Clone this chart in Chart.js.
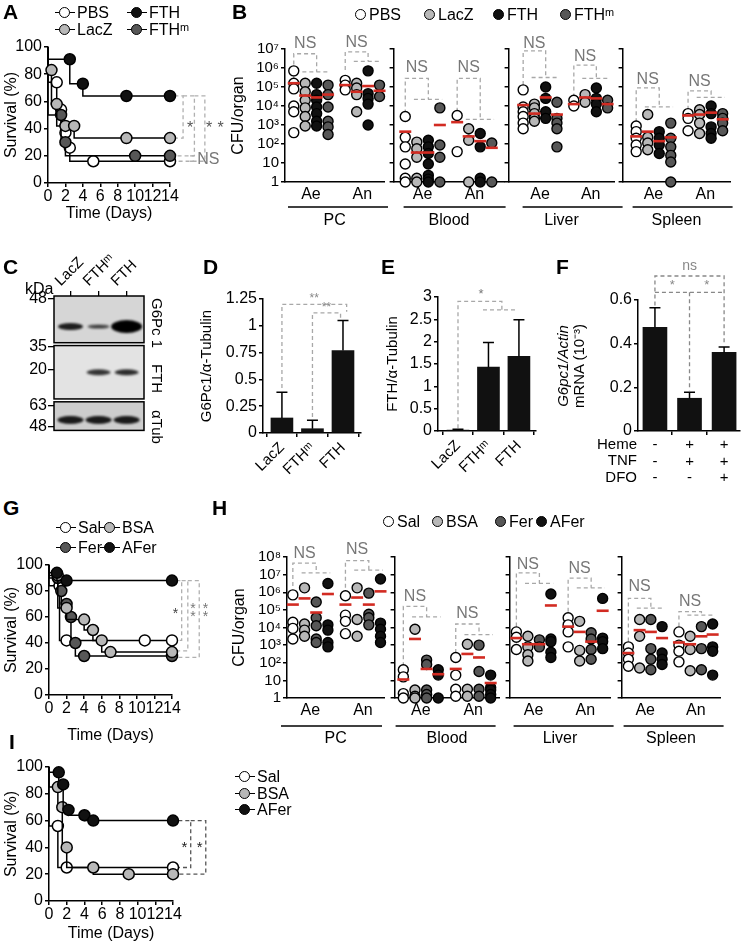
<!DOCTYPE html>
<html lang="en">
<head>
<meta charset="UTF-8">
<title>Figure</title>
<script src="https://cdn.jsdelivr.net/npm/chart.js"></script>
<style>
  body { margin: 0; background: #fff; font-family: "Liberation Sans", Arial, sans-serif; }
  #fig { position: relative; width: 742px; height: 948px; overflow: hidden; background: #fff; }
  .box { position: absolute; }
  .box canvas { display: block; }
  .pl { position: absolute; font-weight: bold; font-size: 21px; line-height: 21px; }
  .lg { position: absolute; display: flex; align-items: center; height: 16px; font-size: 16px; line-height: 16px; white-space: nowrap; }
  .sym { display: inline-block; position: relative; width: 20px; height: 12px; margin-right: 2px; }
  .sym.km:before { content: ''; position: absolute; left: 0; right: 0; top: 5px; border-top: 1.5px solid #000; }
  .sym:after { content: ''; position: absolute; left: 4px; top: 0; width: 9px; height: 9px; border: 1.5px solid #000; border-radius: 50%; background: var(--c); }
  .sym.dot { width: 12px; }
  .sym.dot:after { left: 0; }
  .txt { position: absolute; font-size: 15px; line-height: 16px; white-space: nowrap; }
  .vt { position: absolute; font-size: 15px; line-height: 16px; white-space: nowrap; transform: rotate(90deg); transform-origin: 0 0; }
</style>
</head>
<body>
<div id="fig">
  <div class="pl" style="left:3px;top:1px">A</div>
  <div class="pl" style="left:232px;top:1px">B</div>
  <div class="pl" style="left:3px;top:256px">C</div>
  <div class="pl" style="left:203px;top:256px">D</div>
  <div class="pl" style="left:381px;top:256px">E</div>
  <div class="pl" style="left:556px;top:256px">F</div>
  <div class="pl" style="left:3px;top:497px">G</div>
  <div class="pl" style="left:212px;top:497px">H</div>
  <div class="pl" style="left:9px;top:731px">I</div>

  <div class="lg" style="left:55px;top:5px"><span class="sym km" style="--c:#fff"></span>PBS</div>
  <div class="lg" style="left:127px;top:5px"><span class="sym km" style="--c:#111"></span>FTH</div>
  <div class="lg" style="left:55px;top:22px"><span class="sym km" style="--c:#b8b8b8"></span>LacZ</div>
  <div class="lg" style="left:127px;top:22px"><span class="sym km" style="--c:#575757"></span>FTHᵐ</div>

  <div class="lg" style="left:355px;top:7px"><span class="sym dot" style="--c:#fff"></span>PBS</div>
  <div class="lg" style="left:424px;top:7px"><span class="sym dot" style="--c:#b8b8b8"></span>LacZ</div>
  <div class="lg" style="left:493px;top:7px"><span class="sym dot" style="--c:#111"></span>FTH</div>
  <div class="lg" style="left:560px;top:7px"><span class="sym dot" style="--c:#575757"></span>FTHᵐ</div>

  <div class="lg" style="left:25px;top:281px">kDa</div>
  <div class="vt" style="left:165px;top:298px">G6Pc 1</div>
  <div class="vt" style="left:165px;top:364px">FTH</div>
  <div class="vt" style="left:165px;top:410px">αTub</div>

  <div class="txt" style="left:560px;top:436px;width:77px;text-align:right">Heme</div>
  <div class="txt" style="left:560px;top:452px;width:77px;text-align:right">TNF</div>
  <div class="txt" style="left:560px;top:469px;width:77px;text-align:right">DFO</div>
  <div class="txt" style="left:491px;top:350px;width:160px;height:32px;text-align:center;transform:rotate(-90deg)"><i>G6pc1/Actin</i><br>mRNA (10⁻³)</div>

  <div class="lg" style="left:56px;top:520px"><span class="sym km" style="--c:#fff"></span>Sal</div>
  <div class="lg" style="left:100px;top:520px"><span class="sym km" style="--c:#b8b8b8"></span>BSA</div>
  <div class="lg" style="left:56px;top:540px"><span class="sym km" style="--c:#575757"></span>Fer</div>
  <div class="lg" style="left:100px;top:540px"><span class="sym km" style="--c:#111"></span>AFer</div>

  <div class="lg" style="left:383px;top:514px"><span class="sym dot" style="--c:#fff"></span>Sal</div>
  <div class="lg" style="left:432px;top:514px"><span class="sym dot" style="--c:#b8b8b8"></span>BSA</div>
  <div class="lg" style="left:495px;top:514px"><span class="sym dot" style="--c:#575757"></span>Fer</div>
  <div class="lg" style="left:536px;top:514px"><span class="sym dot" style="--c:#111"></span>AFer</div>

  <div class="lg" style="left:235px;top:769px"><span class="sym km" style="--c:#fff"></span>Sal</div>
  <div class="lg" style="left:235px;top:786px"><span class="sym km" style="--c:#b8b8b8"></span>BSA</div>
  <div class="lg" style="left:235px;top:802px"><span class="sym km" style="--c:#111"></span>AFer</div>
</div>
<script>
// ---- survival curves (day, % alive) ----
const aPBS  = [[0,100],[1,74],[1.5,54],[2,37],[2.5,26],[5.2,16],[14,16]];
const aLacZ = [[0,100],[0.4,83],[1,58],[2,42],[3,42],[9,33],[14,33]];
const aFTH  = [[0,100],[2.5,91],[4,73],[9,64],[14,64]];
const aFTHm = [[0,100],[1.5,50],[2,30],[10,20],[14,20]];

const gSal  = [[0,100],[1.2,84],[2,42],[10.9,42],[14,42]];
const gBSA  = [[0,100],[1,92],[2,67],[4,58],[5,50],[6,42],[7,33],[14,33]];
const gFer  = [[0,100],[1,90],[1.4,80],[2,70],[2.5,60],[3,40],[4,30],[14,30]];
const gAFer = [[0,100],[0.9,94],[2,88],[14,88]];

const iSal  = [[0,100],[1,56],[2,25],[14,25]];
const iBSA  = [[0,100],[1,85],[1.5,70],[2,40],[5,25],[9,20],[14,20]];
const iAFer = [[0,100],[1.1,96],[1.6,87],[2.2,68],[4,64],[5,60],[14,60]];

// ---- CFU per organ, log10 values, columns: 4 groups Ae then 4 groups An ----
const bPC = [[5.85,5.2,4.9,4.0,3.7,2.6],[5.2,4.75,4.3,3.9,3.45,2.95],[5.2,4.6,4.3,3.95,3.6,3.2,2.95],[5.1,4.6,3.95,3.2,2.9,2.5],
             [5.35,5.1,4.85],[5.2,4.95,4.6,3.7],[5.85,4.65,4.4,4.1,3.0],[5.1,4.5]];
const bPCMed = [5.2,4.55,4.45,4.6,5.1,4.75,5.05,4.8];
const bBlood = [[3.45,2.35,1.85,0.95,0.2,0],[2.1,1.75,1.3,0.2,0],[2.2,1.85,1.5,0.95,0.35,0.15,0],[3.9,1.95,1.3,0],
                [3.5,1.6],[2.8,2.2,0],[2.55,1.85,0.2,0],[2.05,0]];
const bBloodMed = [2.65,1.55,1.55,3.0,3.15,2.4,2.15,1.8];
const bLiver = [[4.85,3.95,3.7,3.45,3.1,2.8],[4.1,3.9,3.6,3.35,3.2],[5.0,4.4,3.7,3.35],[4.2,3.35,3.1,2.8,1.85],
                [4.3,4.0],[4.6,4.2],[4.95,4.4,4.1,3.7],[4.3,3.9]];
const bLiverMed = [4.05,3.6,4.45,3.55,4.1,4.45,4.4,4.1];
const bSpleen = [[2.95,2.65,2.3,1.95,1.6],[3.55,2.35,2.05,1.7],[2.65,2.3,1.95,1.5],[3.1,2.3,1.85,1.4,1.05,0],
                 [3.6,3.35,2.7],[3.8,3.55,3.1,2.55],[4.0,3.6,2.9,2.55,2.3],[3.6,3.35,3.1,2.7]];
const bSpleenMed = [2.4,2.65,2.15,2.35,3.5,3.55,3.65,3.3];

const hPC = [[5.85,4.3,3.95,3.35],[6.25,4.2,3.85,3.5],[5.45,4.55,4.1,3.35,3.15],[6.5,4.15,3.85,3.15,2.9],
             [5.8,4.7,4.35,3.65],[6.25,4.45,3.5],[5.95,4.75,4.55,4.15],[6.75,4.25,3.9,3.5,3.15]];
const hPCMed = [5.3,5.65,4.85,5.9,5.3,5.7,5.3,6.05];
const hBlood = [[1.6,1.2,0.25,0],[3.9,0.45,0.1,0],[2.15,1.9,0.45,0.2,0],[1.6,1.3,0],
                [2.3,1.3,0.5,0.1],[3.05,0.5,0.1],[3.0,1.5,0.5,0.1],[1.3,0.6,0.45,0.2,0]];
const hBloodMed = [1.05,3.35,1.65,1.35,1.65,2.5,2.3,0.85];
const hLiver = [[3.75,3.45,2.75],[3.5,2.9,2.45,2.1],[3.3,2.9],[5.9,3.35,3.2,2.6,2.3],
                [4.55,4.15,3.75,2.9],[4.35,2.7,2.1],[3.7,3.35,2.75,2.2],[5.65,3.4,3.2,2.8]];
const hLiverMed = [3.4,3.05,3.05,5.25,4.05,3.75,3.2,4.95];
const hSpleen = [[2.9,2.55,2.2,1.8],[4.45,3.5,1.7],[4.45,2.8,2.2,1.6],[4.05,2.55,2.2,1.9],
                 [3.75,3.0,2.65,2.05],[3.5,2.75,1.55],[4.05,2.8,1.6],[4.2,2.9,2.65,1.3]];
const hSpleenMed = [2.55,3.85,3.75,3.4,3.15,3.05,3.5,3.6];

// significance brackets per organ: [left leg bottom, top, group bar, label height] for Ae and An
const bPCSig = [[5.45,6.75,5.8,7.3],[5.9,6.85,6.35,7.35]];
const bBloodSig = [[3.6,5.45,4.35,6.0],[3.7,5.45,3.3,6.0]];
const bLiverSig = [[5.1,6.9,5.5,7.3],[4.45,6.15,5.45,6.6]];
const bSpleenSig = [[3.15,4.95,3.95,5.4],[3.8,4.8,4.45,5.3]];
const hPCSig = [[6.35,7.65,7.1,8.2],[6.25,7.8,7.25,8.4]];
const hBloodSig = [[1.8,5.2,4.6,5.75],[2.55,4.2,3.6,4.8]];
const hLiverSig = [[4.05,7.1,6.5,7.55],[4.9,6.8,6.25,7.35]];
const hSpleenSig = [[3.2,5.65,5.1,6.3],[4.05,4.9,4.7,5.45]];

// ---- bar panels ----
const lanes = ['LacZ', 'FTHᵐ', 'FTH'];
const dMean = [0.14, 0.04, 0.77];
const dErr  = [0.38, 0.12, 1.05];
const eMean = [0.02, 1.43, 1.67];
const eErr  = [0.04, 1.98, 2.49];
const fMean = [0.475, 0.15, 0.36];
const fErr  = [0.565, 0.178, 0.385];
const heme = ['-', '+', '+'];
const tnf  = ['-', '+', '+'];
const dfo  = ['-', '-', '+'];

// ---- western blot ----
const kdaPos  = [3, 53, 77, 115, 137];
const kdaText = ['48', '35', '20', '63', '48'];
const stripRows = [[0, 49], [52, 108], [111, 141]];
const bandRow = [32, 80, 130];
const g6Band  = [0.75, 0.3, 1.6];
const fthBand = [0, 0.5, 0.6];
const tubBand = [0.8, 0.8, 0.8];

const WHITE = '#fff', LIGHT = '#b8b8b8', DARK = '#575757', BLACK = '#111';
const FONT = '"Liberation Sans", Arial, sans-serif';

Chart.defaults.font.family = FONT;
Chart.defaults.font.size = 15;
Chart.defaults.color = '#000';
Chart.defaults.animation = false;
Chart.defaults.plugins.legend.display = false;
Chart.defaults.plugins.tooltip.enabled = false;

const fig = document.getElementById('fig');

function frameCanvas(a, m) {
  const left = a.L - m.yw, top = a.T - m.pt;
  const w = a.R + m.pr - left, h = a.B + m.xh + (m.pb || 0) - top;
  const d = document.createElement('div');
  d.className = 'box';
  d.style.left = left + 'px';
  d.style.top = top + 'px';
  const c = document.createElement('canvas');
  c.width = w; c.height = h;
  c.style.width = w + 'px'; c.style.height = h + 'px';
  d.appendChild(c);
  fig.insertBefore(d, fig.firstChild);
  return c;
}

function notesPlugin(items) {
  return {
    id: 'notes',
    afterDatasetsDraw(chart) {
      const { ctx, scales } = chart;
      items.forEach(n => {
        ctx.save();
        ctx.font = (n.size || 15) + 'px ' + FONT;
        ctx.fillStyle = n.color || '#777';
        ctx.textAlign = 'center';
        ctx.textBaseline = 'middle';
        ctx.fillText(n.text, scales.x.getPixelForValue(n.x), scales.y.getPixelForValue(n.y));
        ctx.restore();
      });
    }
  };
}

function axisStyle(len) {
  return {
    border: { display: true, color: '#000', width: 1.5 },
    grid: { display: true, drawOnChartArea: false, drawTicks: true, tickLength: len, color: '#000', lineWidth: 1.5 }
  };
}

function bracketSet(pts, color, width) {
  return {
    type: 'scatter', showLine: true,
    data: pts.map(p => p ? { x: p[0], y: p[1] } : { x: null, y: null }),
    borderColor: color, borderDash: [4, 3], borderWidth: width || 1.3,
    pointRadius: 0, clip: false, order: 5, spanGaps: false
  };
}

const trimNum = v => String(+v.toFixed(2));

// ---------- survival ----------
function kmChart(a, m, series, brackets, bColor, notes) {
  const c = frameCanvas(a, m);
  const ds = series.map((sr, k) => ({
    data: sr[0].map(p => ({ x: p[0], y: p[1] })),
    showLine: true, stepped: 'after',
    borderColor: '#000', borderWidth: 1.5,
    pointRadius: sr[0].map((p, i) => i === 0 ? 0 : 5.5),
    pointBackgroundColor: sr[1], pointBorderColor: '#000', pointBorderWidth: 1.5,
    clip: false, order: k
  }));
  brackets.forEach(b => ds.push(bracketSet(b, bColor)));
  new Chart(c, {
    type: 'scatter',
    data: { datasets: ds },
    options: {
      responsive: false,
      layout: { padding: { left: 0, top: m.pt, right: m.pr, bottom: 0 } },
      scales: {
        x: Object.assign(axisStyle(4), {
          type: 'linear', min: 0, max: 14,
          afterFit: s => { s.height = m.xh; },
          ticks: { stepSize: 2, autoSkip: false, maxRotation: 0, padding: 0, font: { size: 16 } },
          title: { display: true, text: 'Time (Days)', font: { size: 16 }, padding: 0 }
        }),
        y: Object.assign(axisStyle(4), {
          type: 'linear', min: 0, max: 100,
          afterFit: s => { s.width = m.yw; },
          ticks: { stepSize: 20, autoSkip: false, padding: 2, font: { size: 16 } },
          title: { display: true, text: 'Survival (%)', font: { size: 16 }, padding: { top: 2, bottom: 0 } }
        })
      }
    },
    plugins: [notesPlugin(notes)]
  });
}

kmChart({ L: 48, T: 47, R: 170, B: 183 }, { yw: 48, pt: 12, pr: 62, xh: 40 },
  [[aFTH, BLACK], [aLacZ, LIGHT], [aFTHm, DARK], [aPBS, WHITE]],
  [[[14.5, 64], [15.5, 64], [15.5, 33], [14.5, 33]],
   [[15.5, 64], [16.8, 64], [16.8, 20], [14.5, 20]],
   [[16.8, 64], [18, 64], [18, 16], [14.5, 16]],
   [[16.3, 20], [16.8, 20], null, [16.3, 16], [16.8, 16]]],
  '#b0b0b0',
  [{ x: 16.3, y: 40, text: '*', color: '#555', size: 16 },
   { x: 18.5, y: 40, text: '*', color: '#555', size: 16 },
   { x: 19.8, y: 40, text: '*', color: '#555', size: 16 },
   { x: 18.4, y: 17, text: 'NS', color: '#777', size: 16 }]);

kmChart({ L: 49, T: 565, R: 172, B: 695 }, { yw: 49, pt: 12, pr: 60, xh: 50 },
  [[gAFer, BLACK], [gBSA, LIGHT], [gFer, DARK], [gSal, WHITE]],
  [[[14.5, 88], [15.1, 88], [15.1, 42], [14.5, 42]],
   [[15.1, 88], [15.8, 88], [15.8, 34], [14.5, 34]],
   [[15.8, 88], [17.1, 88], [17.1, 29], [14.5, 29]]],
  '#b0b0b0',
  [{ x: 14.4, y: 62, text: '*', color: '#444', size: 14 },
   { x: 16.4, y: 66, text: '*', color: '#777', size: 14 },
   { x: 16.4, y: 60, text: '*', color: '#777', size: 14 },
   { x: 17.8, y: 66, text: '*', color: '#777', size: 14 },
   { x: 17.8, y: 60, text: '*', color: '#777', size: 14 }]);

kmChart({ L: 49, T: 767, R: 173, B: 901 }, { yw: 49, pt: 12, pr: 55, xh: 42 },
  [[iAFer, BLACK], [iBSA, LIGHT], [iSal, WHITE]],
  [[[14.6, 60], [16, 60], [16, 25], [14.6, 25]],
   [[16, 60], [17.7, 60], [17.7, 20], [14.6, 20]]],
  '#555',
  [{ x: 15.3, y: 40, text: '*', color: '#222', size: 15 },
   { x: 17.0, y: 40, text: '*', color: '#222', size: 15 }]);

// ---------- CFU scatter panels ----------
const colX = [1, 2, 3, 4, 5.5, 6.5, 7.5, 8.5];
const sup = ['⁰', '¹', '²', '³', '⁴', '⁵', '⁶', '⁷', '⁸'];

function cfuChart(o) {
  const s = (o.o8 - o.o1) / 7.5;
  const xmin = 1 - o.o1 / s, xmax = xmin + o.W / s;
  const a = { L: o.L, T: o.T, R: o.L + o.W, B: o.B };
  const m = { yw: o.yw, pt: o.pt, pr: 6, xh: o.xh };
  const c = frameCanvas(a, m);
  const ds = [{
    data: o.meds.map((v, i) => ({ x: colX[i], y: v })),
    pointStyle: 'line', pointRadius: 6, pointBorderColor: '#d22b22', pointBorderWidth: 2.6,
    clip: false, order: 0
  }];
  o.cols.forEach((col, i) => ds.push({
    data: col.map(v => ({ x: colX[i], y: v })),
    pointRadius: 5, pointBackgroundColor: o.fills[i % 4], pointBorderColor: '#000', pointBorderWidth: 1.4,
    clip: false, order: 2
  }));
  const notes = [];
  o.sig.forEach((b, g) => {
    const x0 = g ? 5.5 : 1, mid = x0 + 2;
    ds.push(bracketSet([[x0, b[0]], [x0, b[1]], [mid, b[1]], [mid, b[2]], null, [x0 + 0.75, b[2]], [x0 + 3.2, b[2]]], '#a8a8a8'));
    notes.push({ x: (x0 + mid) / 2, y: b[3], text: 'NS', color: '#777', size: 16 });
  });
  const underline = {
    id: 'underline',
    afterDraw(chart) {
      const { ctx, chartArea } = chart;
      ctx.save();
      ctx.strokeStyle = '#000';
      ctx.lineWidth = 1.5;
      ctx.beginPath();
      ctx.moveTo(chartArea.left + o.under[0], chartArea.bottom + o.uy);
      ctx.lineTo(chartArea.left + o.under[1], chartArea.bottom + o.uy);
      ctx.stroke();
      ctx.restore();
    }
  };
  new Chart(c, {
    type: 'scatter',
    data: { datasets: ds },
    options: {
      responsive: false,
      layout: { padding: { left: 0, top: m.pt, right: m.pr, bottom: 0 } },
      scales: {
        x: {
          type: 'linear', min: xmin, max: xmax,
          border: { display: true, color: '#000', width: 1.5 },
          grid: { display: false, drawTicks: false },
          afterFit: sc => { sc.height = m.xh; },
          afterBuildTicks: sc => { sc.ticks = [{ value: 2.5 }, { value: 7 }]; },
          ticks: { autoSkip: false, maxRotation: 0, padding: 3, font: { size: 16 }, callback: (v, i) => ['Ae', 'An'][i] },
          title: { display: true, text: o.group, font: { size: 16 }, padding: 0 }
        },
        y: Object.assign(axisStyle(4), {
          type: 'linear', min: 0, max: o.yTop,
          afterFit: sc => { sc.width = m.yw; },
          ticks: {
            display: o.labels, stepSize: 1, autoSkip: false, padding: 2, font: { size: 15 },
            callback: v => v === 0 ? '1' : v === 1 ? '10' : '10' + sup[v]
          },
          title: { display: o.labels, text: 'CFU/organ', font: { size: 16 }, padding: { top: 2, bottom: 0 } }
        })
      }
    },
    plugins: [notesPlugin(notes), underline]
  });
}

const bFills = [WHITE, LIGHT, BLACK, DARK];
const hFills = [WHITE, LIGHT, DARK, BLACK];
const bCommon = { T: 49, B: 182, yTop: 7, pt: 22, xh: 48, uy: 25, fills: bFills };
cfuChart(Object.assign({}, bCommon, { L: 285, W: 102, o1: 9, o8: 97, yw: 58, labels: true, cols: bPC, meds: bPCMed, sig: bPCSig, group: 'PC', under: [3, 103] }));
cfuChart(Object.assign({}, bCommon, { L: 393, W: 114, o1: 12, o8: 101, yw: 8, labels: false, cols: bBlood, meds: bBloodMed, sig: bBloodSig, group: 'Blood', under: [10, 112] }));
cfuChart(Object.assign({}, bCommon, { L: 508, W: 109, o1: 15, o8: 102, yw: 8, labels: false, cols: bLiver, meds: bLiverMed, sig: bLiverSig, group: 'Liver', under: [14, 114] }));
cfuChart(Object.assign({}, bCommon, { L: 622, W: 111, o1: 14, o8: 103, yw: 8, labels: false, cols: bSpleen, meds: bSpleenMed, sig: bSpleenSig, group: 'Spleen', under: [10, 110] }));

const hCommon = { T: 557, B: 698, yTop: 8, pt: 28, xh: 50, uy: 28, fills: hFills };
cfuChart(Object.assign({}, hCommon, { L: 287, W: 100, o1: 6, o8: 96, yw: 59, labels: true, cols: hPC, meds: hPCMed, sig: hPCSig, group: 'PC', under: [-6, 95] }));
cfuChart(Object.assign({}, hCommon, { L: 394, W: 108, o1: 9, o8: 99, yw: 8, labels: false, cols: hBlood, meds: hBloodMed, sig: hBloodSig, group: 'Blood', under: [1, 101] }));
cfuChart(Object.assign({}, hCommon, { L: 509, W: 104, o1: 7, o8: 96, yw: 8, labels: false, cols: hLiver, meds: hLiverMed, sig: hLiverSig, group: 'Liver', under: [4, 104] }));
cfuChart(Object.assign({}, hCommon, { L: 621, W: 102, o1: 7, o8: 94, yw: 8, labels: false, cols: hSpleen, meds: hSpleenMed, sig: hSpleenSig, group: 'Spleen', under: [2, 102] }));

// ---------- bar panels D, E, F ----------
function errPlugin(means, tops, cap) {
  return {
    id: 'err',
    afterDatasetsDraw(chart) {
      const { ctx, scales: { x, y } } = chart;
      ctx.save();
      ctx.strokeStyle = '#000';
      ctx.lineWidth = 1.5;
      means.forEach((v, i) => {
        const px = x.getPixelForValue(i), y0 = y.getPixelForValue(v), y1 = y.getPixelForValue(tops[i]);
        ctx.beginPath();
        ctx.moveTo(px, y0); ctx.lineTo(px, y1);
        ctx.moveTo(px - cap, y1); ctx.lineTo(px + cap, y1);
        ctx.stroke();
      });
      ctx.restore();
    }
  };
}

function barChart(a, m, o) {
  const c = frameCanvas(a, m);
  const ds = [{ type: 'bar', data: o.means.map((v, i) => ({ x: i, y: v })), backgroundColor: BLACK, barThickness: o.bw, order: 2 }];
  o.brackets.forEach(b => ds.push(bracketSet(b, o.bColor || '#a8a8a8')));
  new Chart(c, {
    type: 'bar',
    data: { datasets: ds },
    options: {
      responsive: false,
      layout: { padding: { left: 0, top: m.pt, right: m.pr, bottom: 0 } },
      scales: {
        x: Object.assign(axisStyle(4), {
          type: 'linear', min: o.xr[0], max: o.xr[1], offset: false,
          afterFit: s => { s.height = m.xh; },
          afterBuildTicks: s => { s.ticks = o.ticks.map((t, i) => ({ value: i })); },
          ticks: Object.assign({ autoSkip: false, padding: 2, font: { size: 15 }, callback: (v, i) => o.ticks[i] }, o.tickOpt)
        }),
        y: Object.assign(axisStyle(4), {
          type: 'linear', min: 0, max: o.yMax,
          afterFit: s => { s.width = m.yw; },
          afterBuildTicks: s => {
            const t = [];
            for (let k = 0; k * o.step <= o.yMax + 1e-9; k++) t.push({ value: +(k * o.step).toFixed(3) });
            s.ticks = t;
          },
          ticks: { autoSkip: false, padding: 2, font: { size: 16 }, callback: v => trimNum(v) },
          title: { display: !!o.title, text: o.title || '', font: { size: 15 }, padding: { top: 2, bottom: 0 } }
        })
      }
    },
    plugins: [errPlugin(o.means, o.errs, 5.5), notesPlugin(o.notes)]
  });
}

barChart({ L: 263, T: 299, R: 361, B: 433 }, { yw: 67, pt: 25, pr: 4, xh: 52 }, {
  means: dMean, errs: dErr, bw: 22, xr: [-0.62, 2.59], ticks: lanes, yMax: 1.25, step: 0.25,
  title: 'G6Pc1/α-Tubulin', tickOpt: { minRotation: 45, maxRotation: 45 },
  brackets: [[[0, 0.42], [0, 1.2], [2.12, 1.2], [2.12, 1.13]],
             [[1, 0.15], [1, 1.12], [1.92, 1.12], [1.92, 1.06]]],
  notes: [{ x: 1.06, y: 1.25, text: '**', color: '#888', size: 12 },
          { x: 1.46, y: 1.17, text: '**', color: '#888', size: 12 }]
});

barChart({ L: 438, T: 297, R: 536, B: 431 }, { yw: 56, pt: 25, pr: 4, xh: 52 }, {
  means: eMean, errs: eErr, bw: 22, xr: [-0.656, 2.56], ticks: lanes, yMax: 3, step: 0.5,
  title: 'FTH/α-Tubulin', tickOpt: { minRotation: 45, maxRotation: 45 },
  brackets: [[[0, 0.06], [0, 2.9], [1.44, 2.9], [1.44, 2.71], null, [0.82, 2.71], [1.97, 2.71]]],
  notes: [{ x: 0.76, y: 3.05, text: '*', color: '#777', size: 13 }]
});

barChart({ L: 638, T: 300, R: 740, B: 431 }, { yw: 38, pt: 45, pr: 2, xh: 56 }, {
  means: fMean, errs: fErr, bw: 24, xr: [-0.49, 2.46], ticks: heme.map((h, i) => [h, tnf[i], dfo[i]]),
  yMax: 0.6, step: 0.2, title: '', bColor: '#888', tickOpt: { maxRotation: 0, font: { size: 15, lineHeight: 1.1 } },
  brackets: [[[0, 0.575], [0, 0.71], [2, 0.71], [2, 0.395]],
             [[0, 0.635], [2, 0.635]],
             [[1, 0.635], [1, 0.185]]],
  notes: [{ x: 0.5, y: 0.665, text: '*', color: '#888', size: 13 },
          { x: 1.5, y: 0.665, text: '*', color: '#888', size: 13 },
          { x: 1, y: 0.755, text: 'ns', color: '#888', size: 14 }]
});

// ---------- C: western blot ----------
function bandImage(v) {
  const w = Math.round(20 + 7 * v), h = Math.max(2, Math.round(2 + 7 * v));
  const cv = document.createElement('canvas');
  cv.width = w + 8; cv.height = h + 8;
  const g = cv.getContext('2d');
  g.filter = 'blur(1.2px)';
  g.fillStyle = 'rgba(0,0,0,' + Math.min(1, 0.6 + 0.35 * v) + ')';
  g.beginPath();
  g.ellipse(cv.width / 2, cv.height / 2, w / 2, h / 2, 0, 0, Math.PI * 2);
  g.fill();
  return cv;
}

(function blot() {
  const a = { L: 54, T: 296, R: 147, B: 437 };
  const m = { yw: 44, pt: 45, pr: 3, xh: 0, pb: 4 };
  const c = frameCanvas(a, m);
  const rows = [g6Band, fthBand, tubBand];
  const stripFill = ['#d6d6d6', '#e3e3e3', '#cdcdcd'];
  const ds = rows.map((r, k) => ({
    data: r.map((v, i) => ({ x: i, y: v > 0 ? bandRow[k] : null })),
    pointStyle: r.map(v => v > 0 ? bandImage(v) : 'circle'),
    pointRadius: 5, clip: false
  }));
  const strips = {
    id: 'strips',
    beforeDatasetsDraw(chart) {
      const { ctx, chartArea, scales: { y } } = chart;
      ctx.save();
      stripRows.forEach((r, k) => {
        const y0 = y.getPixelForValue(r[0]), y1 = y.getPixelForValue(r[1]);
        ctx.fillStyle = stripFill[k];
        ctx.fillRect(chartArea.left, y0, chartArea.right - chartArea.left, y1 - y0);
        ctx.strokeStyle = '#000';
        ctx.lineWidth = 1.5;
        ctx.strokeRect(chartArea.left, y0, chartArea.right - chartArea.left, y1 - y0);
      });
      ctx.restore();
    }
  };
  new Chart(c, {
    type: 'scatter',
    data: { datasets: ds },
    options: {
      responsive: false,
      layout: { padding: { left: 0, top: 0, right: m.pr, bottom: m.pb } },
      scales: {
        x: {
          type: 'linear', position: 'top', min: -0.586, max: 2.62,
          border: { display: false },
          grid: { display: true, drawOnChartArea: false, drawTicks: true, tickLength: 5, color: '#000', lineWidth: 1.3 },
          afterFit: s => { s.height = m.pt; },
          afterBuildTicks: s => { s.ticks = lanes.map((t, i) => ({ value: i })); },
          ticks: { autoSkip: false, minRotation: 45, maxRotation: 45, padding: 1, font: { size: 15 }, callback: (v, i) => lanes[i] }
        },
        y: {
          type: 'linear', reverse: true, min: 0, max: 141,
          border: { display: false },
          grid: { display: true, drawOnChartArea: false, drawTicks: true, tickLength: 6, color: '#000', lineWidth: 1.3 },
          afterFit: s => { s.width = m.yw; },
          afterBuildTicks: s => { s.ticks = kdaPos.map(v => ({ value: v })); },
          ticks: { autoSkip: false, padding: 1, font: { size: 16 }, callback: (v, i) => kdaText[i] }
        }
      }
    },
    plugins: [strips]
  });
})();
</script>
</body>
</html>
